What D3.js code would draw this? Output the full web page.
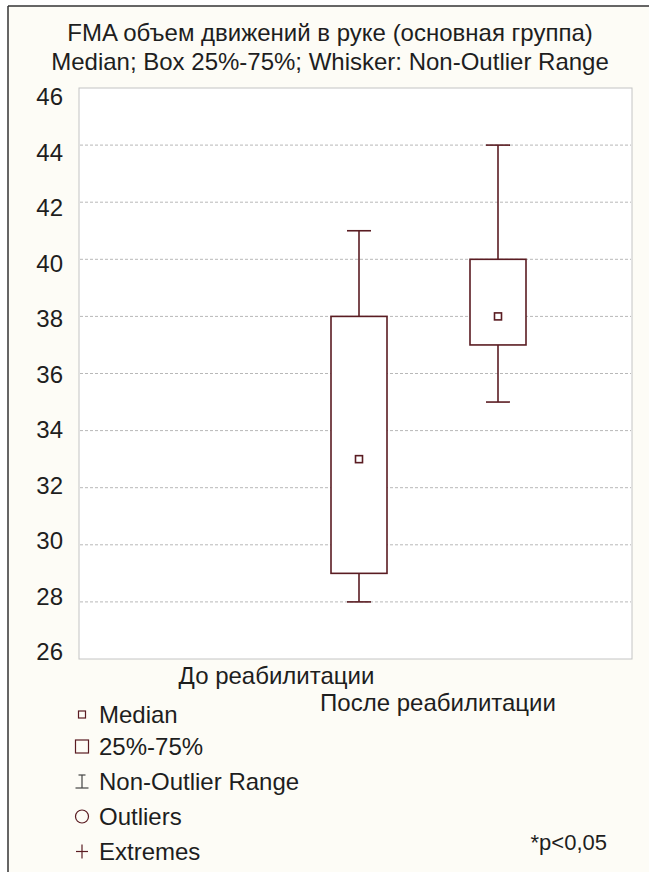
<!DOCTYPE html>
<html>
<head>
<meta charset="utf-8">
<script src="https://cdn.jsdelivr.net/npm/d3@7"></script>
<style>
  html, body { margin: 0; padding: 0; background: #ffffff; }
  svg { display: block; }
  text { font-family: "Liberation Sans", Arial, Helvetica, sans-serif; fill: #1e1e1e; }
</style>
</head>
<body>
<div id="chart"></div>
<script>
// ---- data ----
const titleLines = ["FMA объем движений в руке (основная группа)", "Median; Box 25%-75%; Whisker: Non-Outlier Range"];
const categories = ["До реабилитации", "После реабилитации"];
const medians = [33, 38];
const q1 = [29, 37];
const q3 = [38, 40];
const whiskerLow = [28, 35];
const whiskerHigh = [41, 44];
const yTicks = [26, 28, 30, 32, 34, 36, 38, 40, 42, 44, 46];
const legendLabels = ["Median", "25%-75%", "Non-Outlier Range", "Outliers", "Extremes"];
const note = "*p<0,05";

// ---- layout ----
const W = 649, H = 872;
const plot = { left: 79, right: 632, top: 88, bottom: 659 };
const boxColor = "#5a1c22";
const fs = 24;

const svg = d3.select("#chart").append("svg").attr("width", W).attr("height", H);

// background & frame
svg.append("rect").attr("x", 8).attr("y", 6).attr("width", W - 8).attr("height", H - 6).attr("fill", "#fdfcf6");
svg.append("line").attr("x1", 8).attr("x2", 8).attr("y1", 6).attr("y2", H).attr("stroke", "#333").attr("stroke-width", 1.5);
svg.append("line").attr("x1", 8).attr("x2", W).attr("y1", 6).attr("y2", 6).attr("stroke", "#333").attr("stroke-width", 1.5);

// title
svg.selectAll("text.title").data(titleLines).join("text")
  .attr("class", "title")
  .attr("x", 330).attr("y", (d, i) => 41 + i * 29)
  .attr("text-anchor", "middle").attr("font-size", fs)
  .text(d => d);

// scales
const y = d3.scaleLinear().domain([26, 46]).range([plot.bottom, plot.top]);
const yLab = d3.scaleLinear().domain([26, 46]).range([660, 105]);
const x = d3.scalePoint().domain(categories).range([359, 498]);
const boxW = 56, capW = 24;

// plot area
svg.append("rect").attr("x", plot.left).attr("y", plot.top)
  .attr("width", plot.right - plot.left).attr("height", plot.bottom - plot.top)
  .attr("fill", "#ffffff").attr("stroke", "#c4c4c4").attr("stroke-width", 1);

// gridlines
svg.append("g").selectAll("line").data(yTicks.filter(t => t > 26 && t < 46)).join("line")
  .attr("x1", plot.left + 1).attr("x2", plot.right - 1)
  .attr("y1", d => y(d)).attr("y2", d => y(d))
  .attr("stroke", "#b8b8b8").attr("stroke-width", 1).attr("stroke-dasharray", "3,2");

// y tick labels
svg.append("g").selectAll("text").data(yTicks).join("text")
  .attr("x", 63).attr("y", d => yLab(d))
  .attr("text-anchor", "end").attr("font-size", fs)
  .text(d => d);

// boxes
const g = svg.append("g").attr("stroke", boxColor).attr("stroke-width", 1.6).attr("fill", "none");
categories.forEach((c, i) => {
  const cx = x(c);
  g.append("line").attr("x1", cx).attr("x2", cx).attr("y1", y(whiskerHigh[i])).attr("y2", y(q3[i]));
  g.append("line").attr("x1", cx).attr("x2", cx).attr("y1", y(q1[i])).attr("y2", y(whiskerLow[i]));
  g.append("line").attr("x1", cx - capW / 2).attr("x2", cx + capW / 2).attr("y1", y(whiskerHigh[i])).attr("y2", y(whiskerHigh[i]));
  g.append("line").attr("x1", cx - capW / 2).attr("x2", cx + capW / 2).attr("y1", y(whiskerLow[i])).attr("y2", y(whiskerLow[i]));
  g.append("rect").attr("x", cx - boxW / 2).attr("y", y(q3[i]))
    .attr("width", boxW).attr("height", y(q1[i]) - y(q3[i])).attr("fill", "#ffffff");
  g.append("rect").attr("x", cx - 3.5).attr("y", y(medians[i]) - 3.5)
    .attr("width", 7).attr("height", 7).attr("fill", "#ffffff");
});

// category labels (staggered)
const catLab = [{ dx: -82.5, y: 684 }, { dx: -60, y: 711 }];
svg.append("g").selectAll("text").data(categories).join("text")
  .attr("x", (d, i) => x(d) + catLab[i].dx).attr("y", (d, i) => catLab[i].y)
  .attr("text-anchor", "middle").attr("font-size", fs)
  .text(d => d);

// legend
const legY = [723, 755, 790, 825, 860];
const lg = svg.append("g");
legendLabels.forEach((t, i) => {
  const by = legY[i], cy = by - 8.5, ix = 82;
  lg.append("text").attr("x", 99).attr("y", by).attr("font-size", fs).text(t);
  const ig = lg.append("g").attr("fill", "none").attr("stroke", boxColor).attr("stroke-width", 1.2);
  if (i === 0) {
    ig.append("rect").attr("x", ix - 3.5).attr("y", cy - 3.5).attr("width", 7).attr("height", 7);
  } else if (i === 1) {
    ig.append("rect").attr("x", ix - 6.5).attr("y", cy - 6.5).attr("width", 13).attr("height", 13);
  } else if (i === 2) {
    ig.attr("stroke", "#444");
    ig.append("line").attr("x1", ix).attr("x2", ix).attr("y1", cy - 6.5).attr("y2", cy + 6.5);
    ig.append("line").attr("x1", ix - 3.5).attr("x2", ix + 3.5).attr("y1", cy - 6.5).attr("y2", cy - 6.5);
    ig.append("line").attr("x1", ix - 6.5).attr("x2", ix + 6.5).attr("y1", cy + 6.5).attr("y2", cy + 6.5);
  } else if (i === 3) {
    ig.append("circle").attr("cx", ix).attr("cy", cy).attr("r", 6.5);
  } else {
    ig.append("line").attr("x1", ix - 6).attr("x2", ix + 6).attr("y1", cy).attr("y2", cy);
    ig.append("line").attr("x1", ix).attr("x2", ix).attr("y1", cy - 7).attr("y2", cy + 7);
  }
});

// note
svg.append("text").attr("x", 607).attr("y", 850).attr("text-anchor", "end").attr("font-size", 22).text(note);
</script>
</body>
</html>
